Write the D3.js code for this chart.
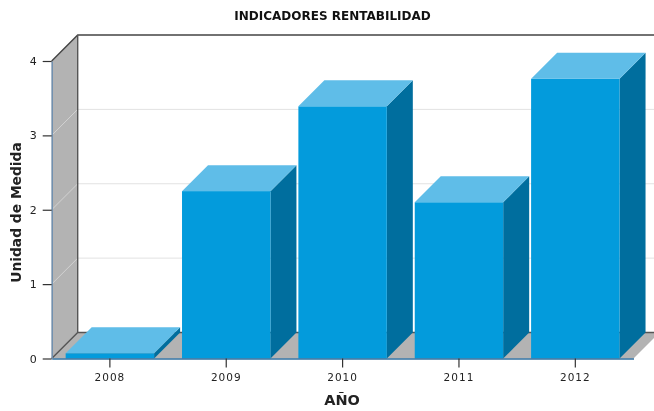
<!DOCTYPE html>
<html>
<head>
<meta charset="utf-8">
<script src="https://cdn.jsdelivr.net/npm/d3@7"></script>
<style>
  html, body { margin: 0; padding: 0; background: #fff; }
  text { font-family: "DejaVu Sans", sans-serif; }
  svg { filter: blur(0.4px); }
</style>
</head>
<body>
<div class="canvas"></div>
<script>
const years = ['2008', '2009', '2010', '2011', '2012']
const values = [0.07, 2.25, 3.39, 2.1, 3.76]
const yTicks = [0, 1, 2, 3, 4]

const width = 654
const height = 411
const margin = { top: 61, right: 20.5, bottom: 52.5, left: 51.7 }
const graphWidth = width - margin.left - margin.right
const graphHeight = height - margin.top - margin.bottom
const depth = 26 // 3d offset of the back wall

const svg = d3.select('.canvas').append('svg')
  .attr('width', width)
  .attr('height', height)
  .style('display', 'block')

const graph = svg.append('g')
  .attr('transform', `translate(${margin.left}, ${margin.top})`)

const x = d3.scaleBand()
  .domain(years)
  .range([0, graphWidth])
  .paddingInner(0.24)
  .paddingOuter(0.12)

const y = d3.scaleLinear()
  .domain([0, 4])
  .range([graphHeight, 0])

const poly = pts => pts.map(p => p.join(',')).join(' ')

// left wall and floor
graph.append('polygon')
  .attr('points', poly([[0, y(4)], [depth, y(4) - depth], [depth, y(0) - depth], [0, y(0)]]))
  .attr('fill', '#b3b3b3')
graph.append('polygon')
  .attr('points', poly([[0, y(0)], [depth, y(0) - depth], [graphWidth + depth, y(0) - depth], [graphWidth, y(0)]]))
  .attr('fill', '#b3b3b3')

// grid on the wall
graph.selectAll('.grid-back')
  .data(yTicks.slice(1, 4))
  .enter().append('line')
  .attr('x1', depth)
  .attr('x2', graphWidth + depth)
  .attr('y1', d => y(d) - depth)
  .attr('y2', d => y(d) - depth)
  .attr('stroke', '#e2e2e2')
graph.selectAll('.grid-side')
  .data(yTicks.slice(1, 4))
  .enter().append('line')
  .attr('x1', 0)
  .attr('x2', depth)
  .attr('y1', d => y(d))
  .attr('y2', d => y(d) - depth)
  .attr('stroke', '#d2d2d2')

// frame
graph.append('path')
  .attr('d', `M0,${y(4)}L${depth},${y(4) - depth}H${graphWidth + depth}`)
  .attr('fill', 'none')
  .attr('stroke', '#444')
  .attr('stroke-width', 1.4)
graph.append('path')
  .attr('d', `M${depth},${y(4) - depth}V${y(0) - depth}H${graphWidth + depth}M${depth},${y(0) - depth}L0,${y(0)}`)
  .attr('fill', 'none')
  .attr('stroke', '#555')
  .attr('stroke-width', 1.4)

// bars
const bars = graph.selectAll('.bar')
  .data(years.map((d, i) => ({ year: d, value: values[i] })))
  .enter().append('g')

bars.append('polygon')
  .attr('fill', '#006e9e')
  .attr('points', d => {
    const r = x(d.year) + x.bandwidth()
    return poly([[r, y(d.value)], [r + depth, y(d.value) - depth], [r + depth, y(0) - depth], [r, y(0)]])
  })

bars.append('polygon')
  .attr('fill', '#5fbde8')
  .attr('points', d => {
    const l = x(d.year)
    const r = l + x.bandwidth()
    return poly([[l, y(d.value)], [l + depth, y(d.value) - depth], [r + depth, y(d.value) - depth], [r, y(d.value)]])
  })

bars.append('rect')
  .attr('fill', '#039bdc')
  .attr('x', d => x(d.year))
  .attr('y', d => y(d.value))
  .attr('width', x.bandwidth())
  .attr('height', d => y(0) - y(d.value))

// axes
const xAxis = d3.axisBottom(x).tickSize(9).tickPadding(6).tickSizeOuter(0)
const yAxis = d3.axisLeft(y).tickValues(yTicks).tickFormat(d3.format('d')).tickSize(9).tickPadding(6).tickSizeOuter(0)

const xAxisGroup = graph.append('g')
  .attr('transform', `translate(0,${graphHeight})`)
  .call(xAxis)
const yAxisGroup = graph.append('g')
  .call(yAxis)

xAxisGroup.select('.domain').attr('stroke', '#2f6f9f').attr('stroke-width', 1.5)
yAxisGroup.select('.domain').attr('stroke', '#6f8fae').attr('stroke-width', 1.5)
xAxisGroup.selectAll('.tick line').attr('stroke', '#333').attr('stroke-width', 1.2)
yAxisGroup.selectAll('.tick line').attr('stroke', '#333').attr('stroke-width', 1.2)
xAxisGroup.selectAll('text').attr('font-size', 10.5).attr('fill', '#222').attr('letter-spacing', 1)
yAxisGroup.selectAll('text').attr('font-size', 11).attr('fill', '#222')

// titles
svg.append('text')
  .attr('x', 332.5)
  .attr('y', 20)
  .attr('text-anchor', 'middle')
  .attr('font-size', 12)
  .attr('font-weight', 'bold')
  .attr('fill', '#111')
  .text('INDICADORES RENTABILIDAD')

svg.append('text')
  .attr('x', 342)
  .attr('y', 405)
  .attr('text-anchor', 'middle')
  .attr('font-size', 14.5)
  .attr('font-weight', 'bold')
  .attr('fill', '#222')
  .text('AÑO')

svg.append('text')
  .attr('transform', 'translate(21, 212.5) rotate(-90)')
  .attr('text-anchor', 'middle')
  .attr('font-size', 13.8)
  .attr('font-weight', 'bold')
  .attr('fill', '#222')
  .text('Unidad de Medida')
</script>
</body>
</html>
